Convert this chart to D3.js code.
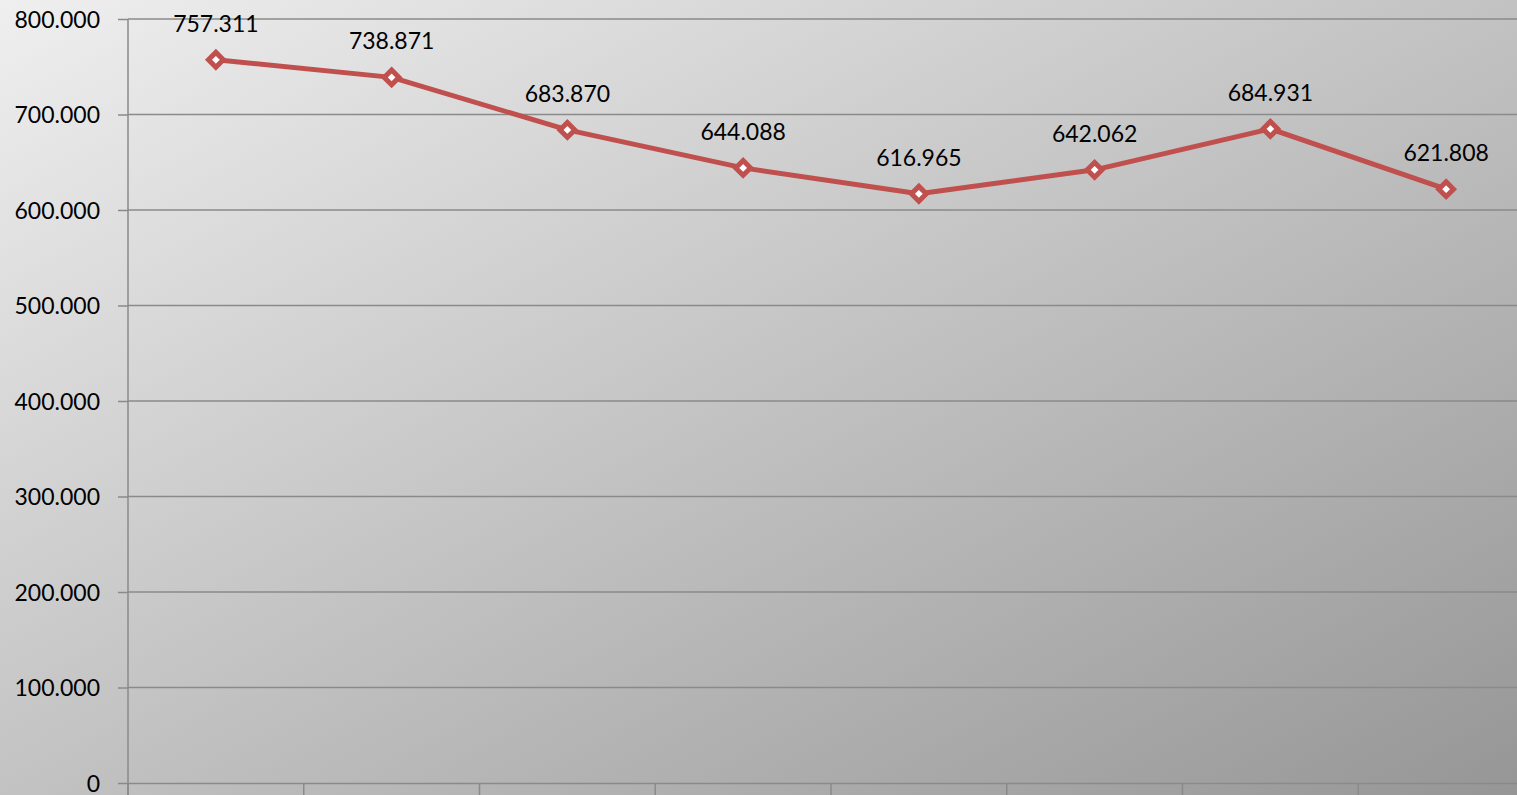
<!DOCTYPE html>
<html><head><meta charset="utf-8">
<script src="https://cdn.jsdelivr.net/npm/d3@7"></script>
<style>html,body{margin:0;padding:0;overflow:hidden;background:#ccc}svg{display:block}</style>
</head><body>
<svg id="chart" width="1517" height="795"></svg>
<script>
const categories = ["2005/2006","2006/2007","2007/2008","2008/2009","2009/2010","2010/2011","2011/2012","2012/2013"];
const values = [757311, 738871, 683870, 644088, 616965, 642062, 684931, 621808];
const yTicks = [0, 100000, 200000, 300000, 400000, 500000, 600000, 700000, 800000];

(function(){
const W = 1517, H = 795;
const svg = d3.select("#chart");
const defs = svg.append("defs");
const grad = defs.append("linearGradient").attr("id","bg").attr("x1","0").attr("y1","0").attr("x2","1").attr("y2","1");
grad.append("stop").attr("offset","0%").attr("stop-color","#efefef");
grad.append("stop").attr("offset","55%").attr("stop-color","#bebebe");
grad.append("stop").attr("offset","100%").attr("stop-color","#969696");
svg.append("rect").attr("width",W).attr("height",H).attr("fill","url(#bg)");

const mL = 128, mR = 1534, mT = 19, mB = 783;
const x = d3.scaleBand().domain(categories).range([mL, mR]).padding(0);
const y = d3.scaleLinear().domain([0, 800000]).range([mB, mT]);
const font = "Lato, 'Open Sans', sans-serif";
const fs = 23;
const fmt = v => Math.floor(v/1000) + "." + String(v % 1000).padStart(3,"0");
const fmtTick = v => v === 0 ? "0" : (v/1000) + ".000";

svg.append("g").selectAll("line").data(yTicks.filter(d=>d>0)).join("line")
  .attr("x1", mL).attr("x2", W).attr("y1", d=>y(d)).attr("y2", d=>y(d))
  .attr("stroke","#8a8a8a").attr("stroke-width",1.5);

const yAxis = d3.axisLeft(y).tickValues(yTicks).tickFormat(fmtTick).tickSize(10).tickPadding(18);
const gy = svg.append("g").attr("transform",`translate(${mL},0)`).call(yAxis);
gy.select(".domain").attr("stroke","#8a8a8a").attr("stroke-width",1.5).attr("d",`M0,${mT}V${H}`);
gy.selectAll(".tick line").attr("stroke","#8a8a8a").attr("stroke-width",1.5);
gy.selectAll(".tick text").attr("font-family",font).attr("font-size",fs).attr("fill","#000").attr("dy","0.35em");

const xAxis = d3.axisBottom(x).tickSize(0).tickPadding(28);
const gx = svg.append("g").attr("transform",`translate(0,${mB})`).call(xAxis);
gx.select(".domain").attr("stroke","#8a8a8a").attr("stroke-width",1.5);
gx.selectAll(".tick text").attr("font-family",font).attr("font-size",fs).attr("fill","#000");
svg.append("g").selectAll("line").data(categories.concat(["_end"])).join("line")
  .attr("x1", (d,i)=> mL + i*x.bandwidth()).attr("x2",(d,i)=> mL + i*x.bandwidth())
  .attr("y1", mB).attr("y2", H)
  .attr("stroke","#8a8a8a").attr("stroke-width",1.5);

const cx = d => x(d) + x.bandwidth()/2;
const pts = categories.map((c,i)=>({c, v: values[i]}));

svg.append("path").datum(pts)
  .attr("d", d3.line().x(d=>cx(d.c)).y(d=>y(d.v)))
  .attr("fill","none").attr("stroke","#c0504d").attr("stroke-width",5).attr("stroke-linejoin","round");

svg.append("g").selectAll("path").data(pts).join("path")
  .attr("d", d3.symbol(d3.symbolDiamond2, 140))
  .attr("transform", d=>`translate(${cx(d.c)},${y(d.v)})`)
  .attr("fill","#fff").attr("stroke","#c0504d").attr("stroke-width",5).attr("stroke-linejoin","miter");

svg.append("g").selectAll("text").data(pts).join("text")
  .attr("x", d=>cx(d.c)).attr("y", d=>y(d.v) - 28)
  .attr("text-anchor","middle").attr("font-family",font).attr("font-size",fs).attr("fill","#000")
  .text(d=>fmt(d.v));
})();
</script>
</body></html>
